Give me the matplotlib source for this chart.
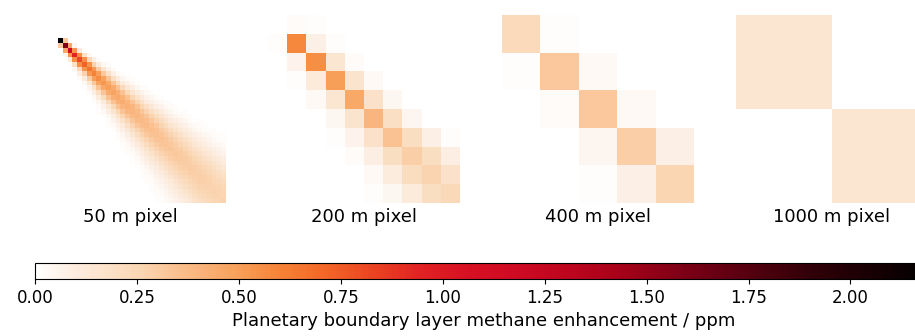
import numpy as np
import matplotlib.pyplot as plt
from matplotlib.colors import Normalize, LinearSegmentedColormap
from matplotlib.cm import ScalarMappable

vmax = 2.2
cbar_ticks = [0.00, 0.25, 0.50, 0.75, 1.00, 1.25, 1.50, 1.75, 2.00]
cbar_label = "Planetary boundary layer methane enhancement / ppm"
panel_labels = ["50 m pixel", "200 m pixel", "400 m pixel", "1000 m pixel"]

# white -> orange -> crimson -> black, stops given in ppm
cmap_ppm = [0.0, 0.069, 0.25, 0.355, 0.495, 0.60, 0.70, 0.82, 0.94,
            1.07, 1.19, 1.31, 1.43, 1.65, 1.90, 2.2]
cmap_hex = ["#ffffff", "#fdf0e6", "#fad7b4", "#fabe8c", "#f8a05a", "#f68237",
            "#f46928", "#eb4623", "#e12323", "#d70f23", "#cd0a23", "#be051e",
            "#a80219", "#6e0014", "#320008", "#000000"]

# scene is 2 km x 2 km, wind blowing towards the lower right
scene_m = 2000
src_x_m, src_y_m = 275, 275
# plume at 50 m resolution: centreline ppm = scale / (downwind + offset_m)**power
centre_scale = 18.8
centre_power = 0.55
offset_m = 20.0
sigma0_m = 15.0
spread = 0.09

# ppm per 200 m pixel (rows top to bottom)
ch4_200m = np.array([
    [0.00, 0.02, 0.01, 0.00, 0.00, 0.00, 0.00, 0.00, 0.00, 0.00],
    [0.01, 0.58, 0.07, 0.01, 0.00, 0.00, 0.00, 0.00, 0.00, 0.00],
    [0.00, 0.06, 0.55, 0.14, 0.02, 0.00, 0.00, 0.00, 0.00, 0.00],
    [0.00, 0.01, 0.12, 0.50, 0.16, 0.03, 0.00, 0.00, 0.00, 0.00],
    [0.00, 0.00, 0.03, 0.14, 0.46, 0.18, 0.04, 0.00, 0.00, 0.00],
    [0.00, 0.00, 0.00, 0.04, 0.16, 0.40, 0.19, 0.05, 0.00, 0.00],
    [0.00, 0.00, 0.00, 0.01, 0.06, 0.18, 0.34, 0.20, 0.07, 0.01],
    [0.00, 0.00, 0.00, 0.00, 0.02, 0.08, 0.20, 0.29, 0.20, 0.08],
    [0.00, 0.00, 0.00, 0.00, 0.00, 0.03, 0.10, 0.21, 0.26, 0.18],
    [0.00, 0.00, 0.00, 0.00, 0.00, 0.01, 0.04, 0.12, 0.20, 0.24],
])

# ppm per 400 m pixel
ch4_400m = np.array([
    [0.23, 0.01, 0.00, 0.00, 0.00],
    [0.01, 0.31, 0.03, 0.00, 0.00],
    [0.00, 0.02, 0.31, 0.03, 0.00],
    [0.00, 0.00, 0.05, 0.29, 0.07],
    [0.00, 0.00, 0.01, 0.07, 0.25],
])

# ppm per 1000 m pixel
ch4_1000m = np.array([
    [0.14, 0.00],
    [0.00, 0.14],
])


def plume_50m():
    n = scene_m // 50
    centres = (np.arange(n) + 0.5) * 50
    xx, yy = np.meshgrid(centres, centres)
    dx, dy = xx - src_x_m, yy - src_y_m
    along = (dx + dy) / np.sqrt(2)
    cross = (dx - dy) / np.sqrt(2)
    downwind = np.clip(along, 0, None)
    sigma = sigma0_m + spread * downwind
    centre = centre_scale / (downwind + offset_m) ** centre_power
    conc = centre * np.exp(-0.5 * (cross / sigma) ** 2)
    return np.where(along >= -1, conc, 0.0)


cmap = LinearSegmentedColormap.from_list(
    "ch4", list(zip(np.array(cmap_ppm) / vmax, cmap_hex)))
norm = Normalize(vmin=0, vmax=vmax)
fields = [plume_50m(), ch4_200m, ch4_400m, ch4_1000m]

fig = plt.figure(figsize=(9.15, 3.36), dpi=100)

# the last panel and the colour bar run past the right edge of the canvas
lefts = [34, 268, 502, 736]
for left, field, label in zip(lefts, fields, panel_labels):
    ax = fig.add_axes([left / 915, 1 - 203 / 336, 192 / 915, 188 / 336])
    ax.imshow(field, cmap=cmap, norm=norm, interpolation="nearest",
              extent=(0, scene_m, scene_m, 0), aspect="auto")
    ax.set_axis_off()
    ax.text(0.5, -0.025, label, transform=ax.transAxes, ha="center", va="top",
            fontsize=13)

cax = fig.add_axes([35 / 915, 1 - 279 / 336, 897 / 915, 16 / 336])
cb = fig.colorbar(ScalarMappable(norm=norm, cmap=cmap), cax=cax,
                  orientation="horizontal", ticks=cbar_ticks, format="%.2f")
cb.ax.tick_params(labelsize=12)
cb.set_label(cbar_label, fontsize=13)

fig.savefig("out.png", dpi=100)
